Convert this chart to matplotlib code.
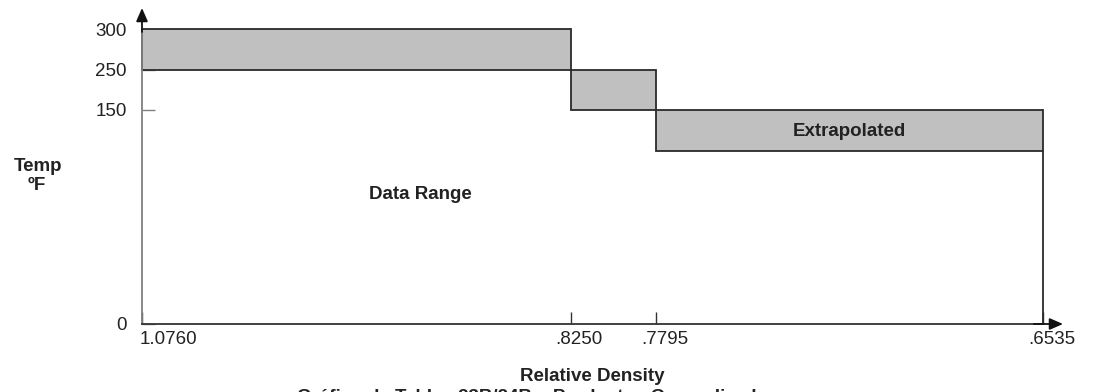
import numpy as np
import matplotlib
matplotlib.use("Agg")
import matplotlib.pyplot as plt
from matplotlib.transforms import ScaledTranslation

plt.rcParams['font.family'] = ['Liberation Sans', 'DejaVu Sans']

# ---- data ----
density_ticks = [1.0760, 0.8250, 0.7795, 0.6535]
density_labels = ["1.0760", ".8250", ".7795", ".6535"]
temp_ticks = [0, 150, 250, 300]
temp_labels = ["0", "150", "250", "300"]
# extrapolated regions: (density_from, density_to, temp_low, temp_high)
region_left = [1.0760, 0.8250, 0.7795]
region_right = [0.8250, 0.7795, 0.6535]
region_low = [250, 150, 100]
region_high = [300, 250, 150]

# schematic (non-linear) axis scales: piecewise-linear
x_knots = [0.6535, 0.7795, 0.8250, 1.0760]
x_pos = [0.0, 387.0, 472.0, 901.0]
y_knots = [0, 100, 150, 250, 300]
y_pos = [0.0, 173.0, 214.0, 254.0, 295.0]

def xf(v):
    return np.interp(v, x_knots, x_pos)
def xi(v):
    return np.interp(v, x_pos, x_knots)
def yf(v):
    return np.interp(v, y_knots, y_pos)
def yi(v):
    return np.interp(v, y_pos, y_knots)

W, H = 1096, 392
FS = 13.5
fig = plt.figure(figsize=(W/100, H/100), dpi=100)
ax = fig.add_axes([142/W, (H-324)/H, 901/W, 295/H])
ax.set_xscale('function', functions=(xf, xi))
ax.set_yscale('function', functions=(yf, yi))
ax.set_xlim(1.0760, 0.6535)
ax.set_ylim(0, 300)

face = '#c0c0c0'
edge = '#2a2a2a'
for l, r, lo, hi in zip(region_left, region_right, region_low, region_high):
    ax.bar(l, hi - lo, width=r - l, bottom=lo, align='edge',
           facecolor=face, edgecolor=edge, linewidth=1.3, zorder=2, clip_on=False)
# right boundary of data range
ax.vlines(region_right[-1], 0, region_low[-1], color=edge, linewidth=1.3,
          zorder=2, clip_on=False)

for s in ['top', 'right']:
    ax.spines[s].set_visible(False)
ax.spines['left'].set_color('#808080')
ax.spines['left'].set_linewidth(1.3)
ax.spines['bottom'].set_color('#333333')
ax.spines['bottom'].set_linewidth(1.3)

ax.set_xticks(density_ticks)
ax.set_xticklabels(density_labels)
ax.set_yticks(temp_ticks)
ax.set_yticklabels(temp_labels)
ax.minorticks_off()
ax.tick_params(axis='x', direction='in', length=9, width=1.0, color='#333333',
               pad=5, labelsize=FS, labelcolor='#222222')
ax.tick_params(axis='y', direction='in', length=9, width=1.0, color='#808080',
               pad=11, labelsize=FS, labelcolor='#222222')
offs = [26, 8, 9, 9]
for lab, o in zip(ax.get_xticklabels(), offs):
    lab.set_transform(lab.get_transform() + ScaledTranslation(o/100, 0, fig.dpi_scale_trans))

# axis arrows
ax.annotate('', xy=(1.0 + 20/901, 0), xytext=(0.99, 0), xycoords='axes fraction',
            arrowprops=dict(arrowstyle='-|>,head_length=0.8,head_width=0.35',
                            color='#111111', lw=1.3, shrinkA=0, shrinkB=0))
ax.annotate('', xy=(0, 1.0 + 21/295), xytext=(0, 0.99), xycoords='axes fraction',
            arrowprops=dict(arrowstyle='-|>,head_length=0.8,head_width=0.35',
                            color='#111111', lw=1.3, shrinkA=0, shrinkB=0))

bold = dict(fontweight='bold', fontsize=FS, color='#222222')
fig.text(38/W, 1 - 166/H, "Temp", ha='center', va='center', **bold)
fig.text(37/W, 1 - 186/H, "ºF", ha='center', va='center', **bold)
fig.text(420/W, 1 - 199/H, "Data Range", ha='center', va='baseline', **bold)
fig.text(849/W, 1 - 136/H, "Extrapolated", ha='center', va='baseline', **bold)
fig.text(592/W, 1 - 381/H, "Relative Density", ha='center', va='baseline', **bold)
fig.text(538/W, 1 - 402/H, "Gráfico de Tablas 23B/24B – Productos Generalizados",
         ha='center', va='baseline', **bold)

fig.savefig('out.png', dpi=100)
